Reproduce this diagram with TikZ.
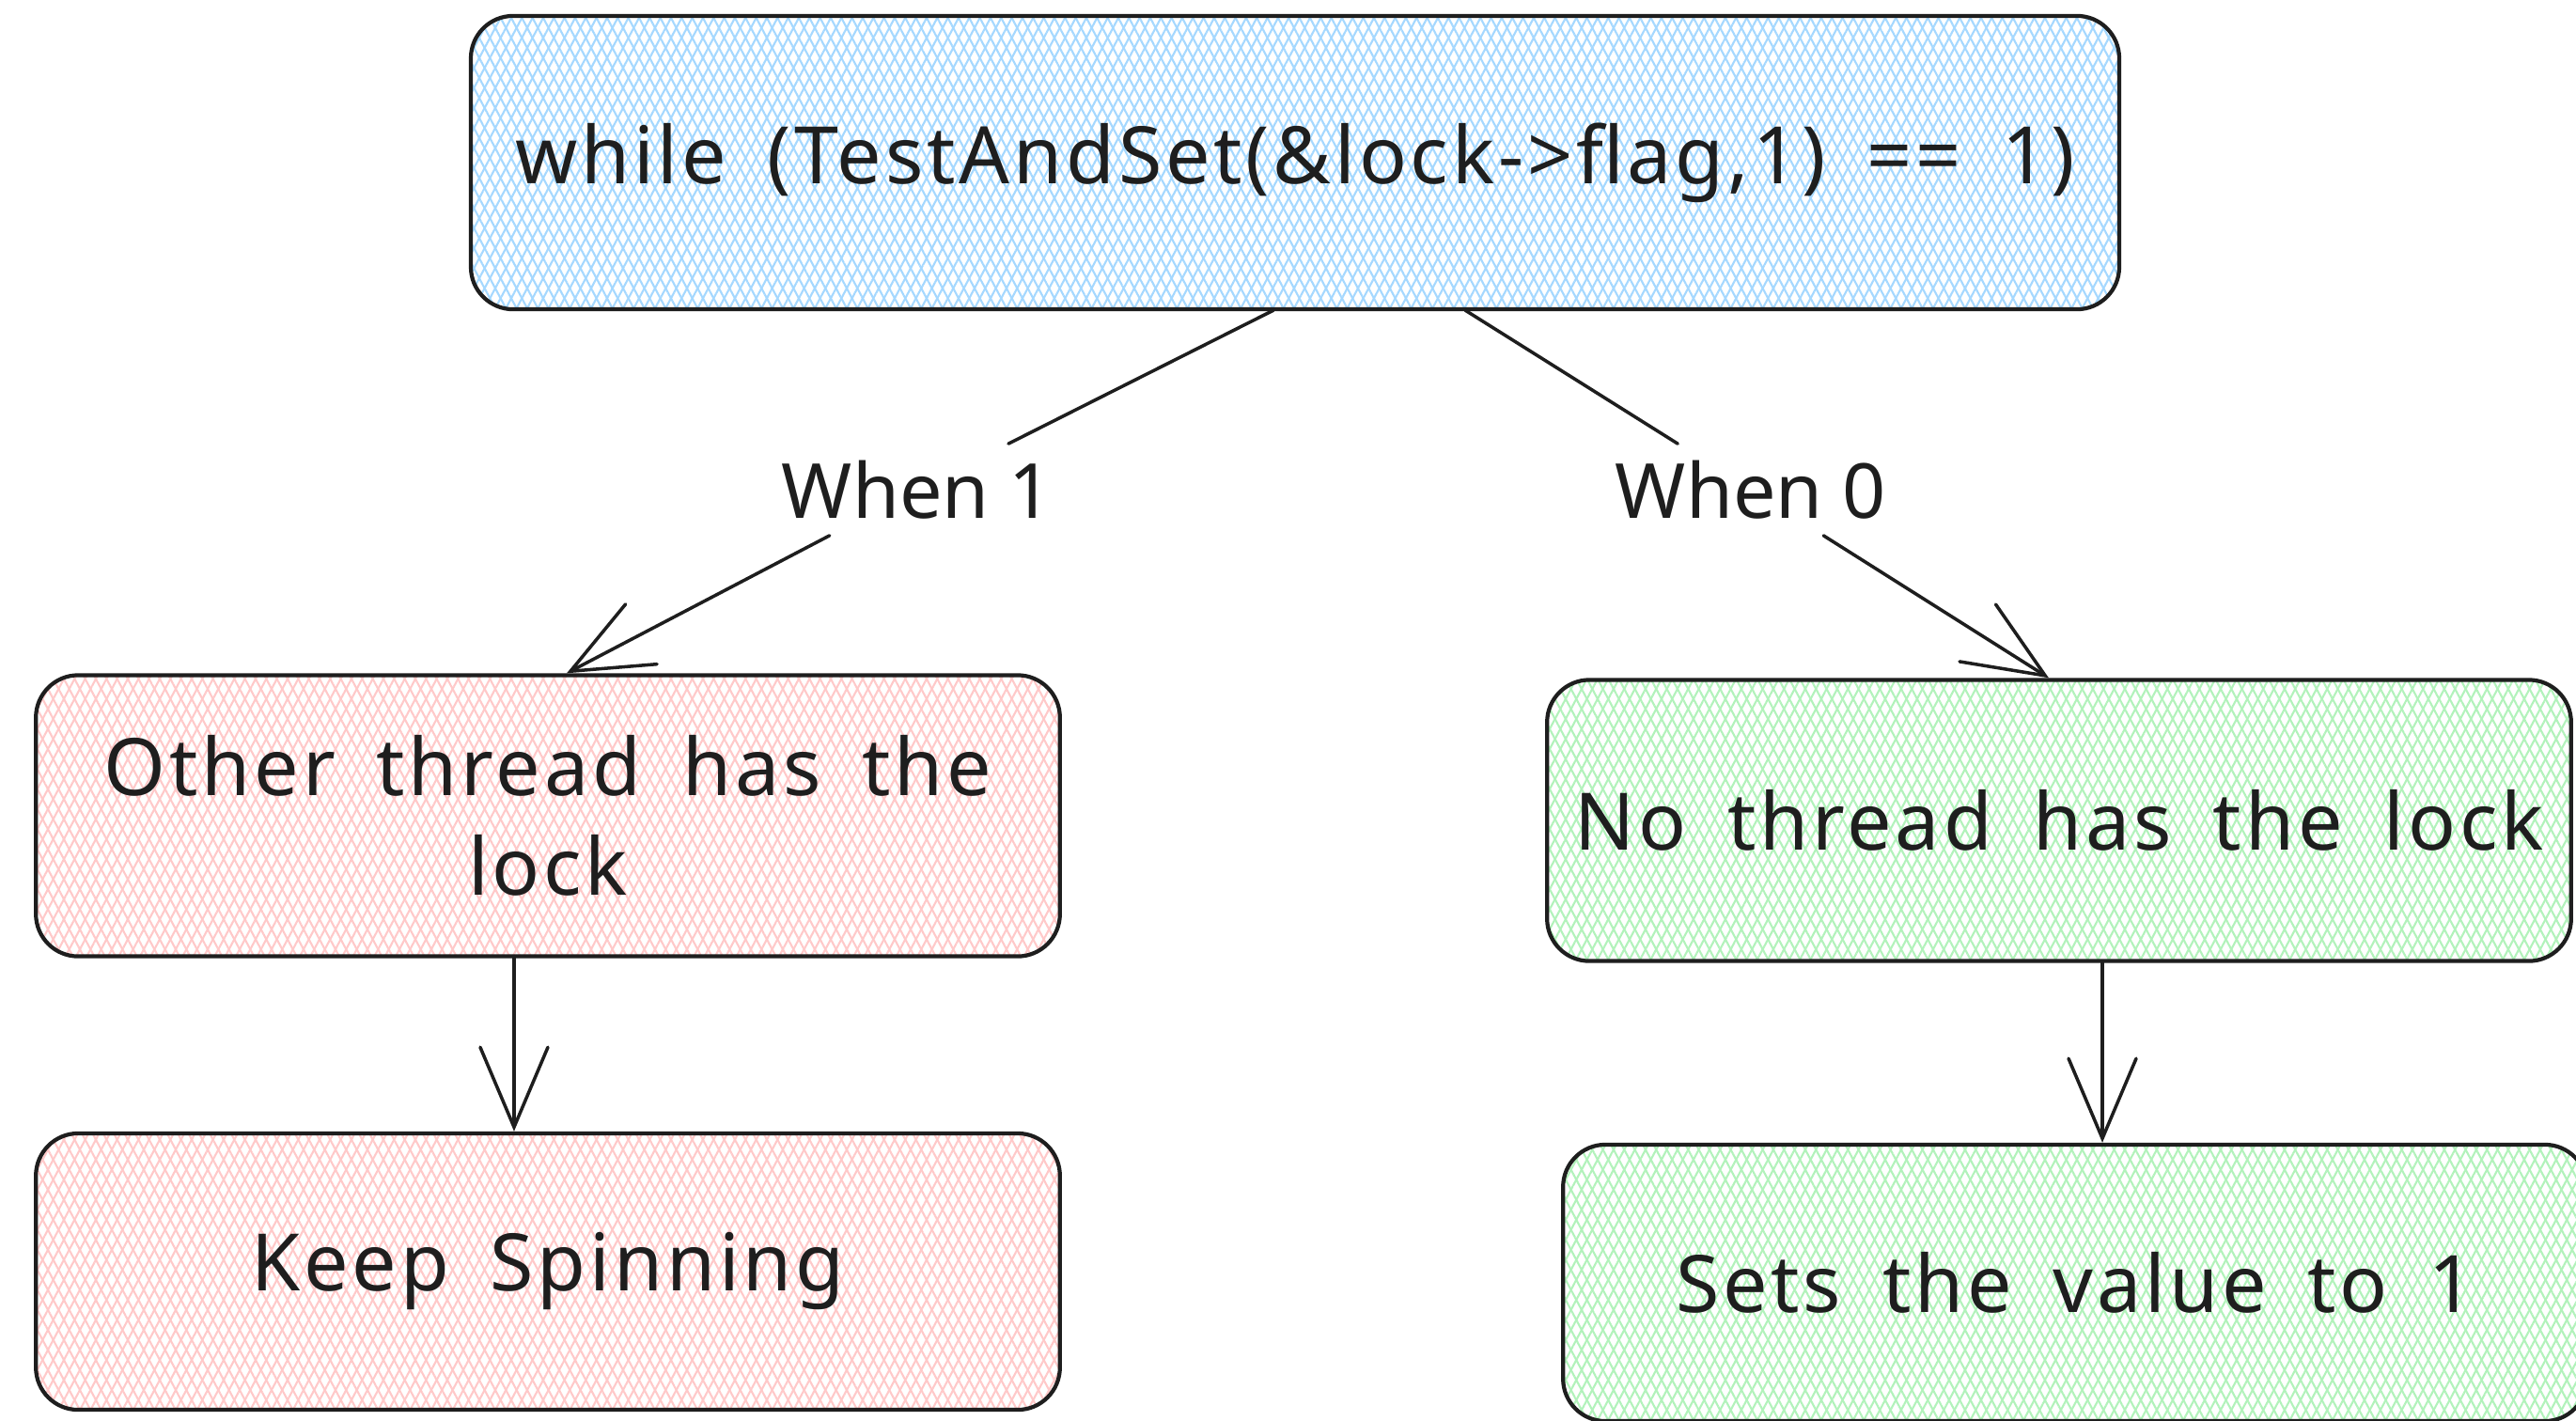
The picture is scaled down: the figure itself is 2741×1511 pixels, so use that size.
\documentclass[tikz,border=0pt]{standalone}
\usepackage{fontspec}
\setmainfont{Noto Sans}[LetterSpace=4.5,WordSpace=1.7]
\newfontfamily\lblfont{Noto Sans}
\usetikzlibrary{arrows.meta,patterns.meta}
\definecolor{ink}{HTML}{1E1E1E}
\definecolor{hblue}{HTML}{A5D8FF}
\definecolor{hred}{HTML}{FFC9C9}
\definecolor{hgreen}{HTML}{B2F2BB}
\tikzset{
  box/.style={draw=ink, line width=1.2pt, rounded corners=0.45cm, align=center,
    text=ink, font=\fontsize{24}{30}\selectfont, inner sep=0pt},
  hatch/.style={preaction={pattern={Lines[angle=62,distance=0.1cm,line width=0.6pt]}, pattern color=#1},
    pattern={Lines[angle=118,distance=0.1cm,line width=0.6pt]}, pattern color=#1},
  lbl/.style={text=ink, font=\lblfont\fontsize{23}{28}\selectfont, inner sep=0.17cm},
  conn/.style={draw=ink, line width=1pt, line cap=round, line join=round},
  arr/.style={-{Straight Barb[length=0.85cm,width=0.72cm,line cap=round]}},
}
\begin{document}
\begin{tikzpicture}[x=0.01cm,y=-0.01cm]
\useasboundingbox (0,0) rectangle (2741,1511);
\clip (0,0) rectangle (2741,1511);

\node[box, hatch=hblue, minimum width=17.53cm, minimum height=3.12cm] (top) at (1378,173)
  {while (TestAndSet(\&lock->flag,1) == 1)};
\node[box, hatch=hred, minimum width=10.89cm, minimum height=2.99cm] (other) at (583,868)
  {Other thread has the\\lock};
\node[box, hatch=hgreen, minimum width=10.89cm, minimum height=2.99cm] (nolock) at (2191,873)
  {No thread has the lock};
\node[box, hatch=hred, minimum width=10.89cm, minimum height=2.94cm] (keep) at (583,1353)
  {Keep Spinning};
\node[box, hatch=hgreen, minimum width=10.89cm, minimum height=2.94cm] (sets) at (2208,1365)
  {Sets the value to 1};

\node[lbl] (w1) at (976,521) {When 1};
\node[lbl] (w0) at (1863,521) {When 0};

\draw[conn] ([xshift=-0.23cm]top.south) -- (w1);
\draw[conn,arr] (w1) -- ([xshift=0.2cm]other.north);
\draw[conn] ([xshift=1.81cm]top.south) -- (w0);
\draw[conn,arr] (w0) -- ([xshift=-0.11cm]nolock.north);
\draw[conn,arr] ([xshift=-0.36cm]other.south) -- ([xshift=-0.36cm]other.south |- keep.north);
\draw[conn,arr] ([xshift=0.46cm]nolock.south) -- ([xshift=0.46cm]nolock.south |- sets.north);
\end{tikzpicture}
\end{document}
